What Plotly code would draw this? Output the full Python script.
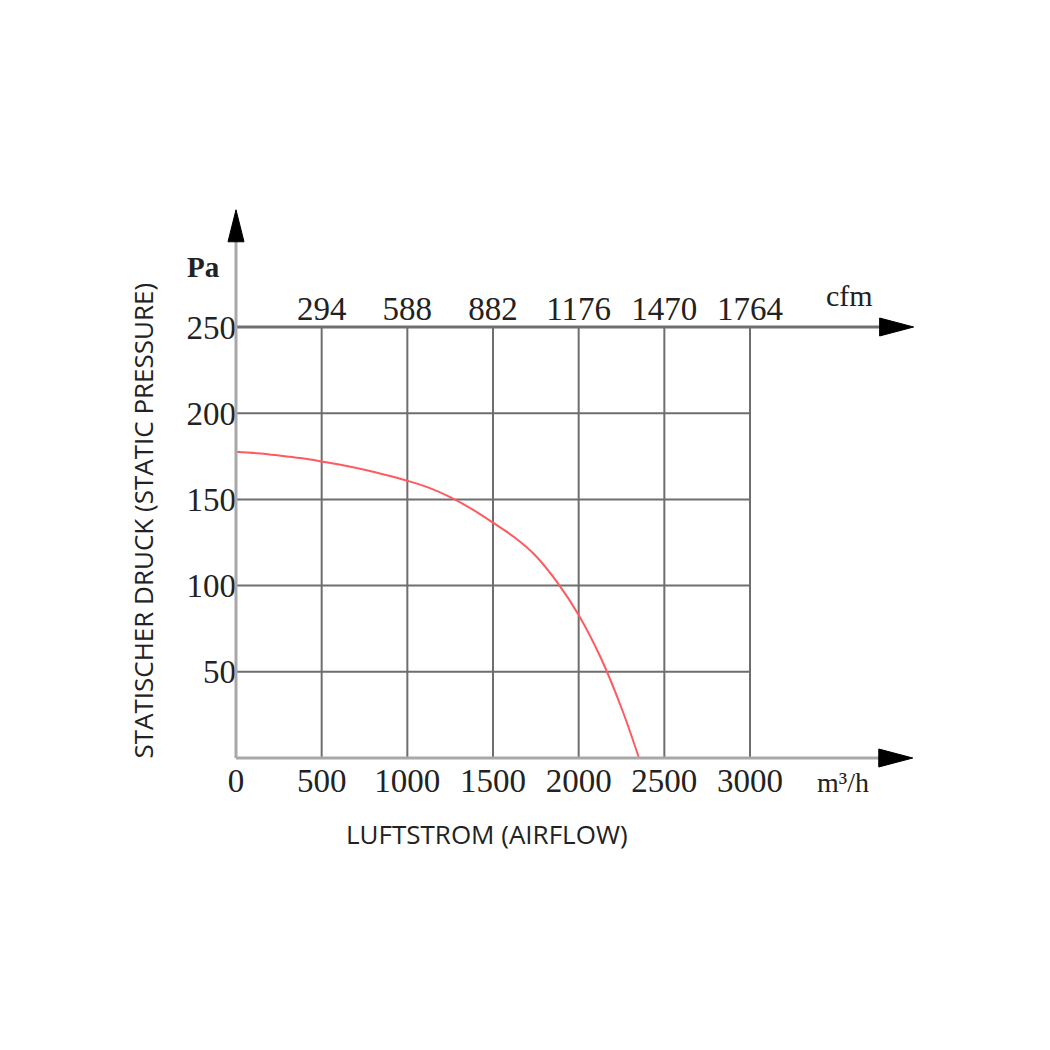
import plotly.graph_objects as go

# ---- data ----
airflow_m3h = [0, 125, 250, 375, 500, 625, 750, 875, 1000, 1125, 1250, 1375,
               1500, 1625, 1750, 1875, 2000, 2125, 2250, 2352]
pressure_pa = [177.7, 176.8, 175.5, 174, 172, 169.8, 167.2, 164.2, 160.8, 156.8, 151.3, 144.5,
               136.5, 128, 117.2, 101.9, 83, 59, 29, 0]

x_ticks = [0, 500, 1000, 1500, 2000, 2500, 3000]
x_tick_labels = ["0", "500", "1000", "1500", "2000", "2500", "3000"]
cfm_ticks = [500, 1000, 1500, 2000, 2500, 3000]
cfm_labels = ["294", "588", "882", "1176", "1470", "1764"]
y_ticks = [50, 100, 150, 200, 250]
y_tick_labels = ["50", "100", "150", "200", "250"]

X_MAX = 3000
Y_MAX = 250
X_RANGE = [-793.8, 4459.1]
Y_RANGE = [-82.37, 352.67]
X_ARROW = 3955
Y_ARROW = 318

serif = "Liberation Serif, Times New Roman, serif"
sans = "Open Sans, Noto Sans, sans-serif"
grid_col = "#6e6e6e"
txt = "#222"

def xfrac(v):
    return (v - X_RANGE[0]) / (X_RANGE[1] - X_RANGE[0])

def yfrac(v):
    return (v - Y_RANGE[0]) / (Y_RANGE[1] - Y_RANGE[0])

fig = go.Figure()

fig.add_trace(go.Scatter(
    x=airflow_m3h, y=pressure_pa, mode="lines",
    line=dict(color="rgb(255,90,95)", width=2, shape="spline", smoothing=1.0),
    hoverinfo="skip", showlegend=False,
))
fig.add_trace(go.Scatter(x=[0, X_MAX], y=[0, 0], xaxis="x2", mode="lines",
                         line=dict(width=0), hoverinfo="skip", showlegend=False))

shapes = []
for xv in cfm_ticks:
    shapes.append(dict(type="line", xref="x", yref="y", x0=xv, x1=xv, y0=0, y1=Y_MAX,
                       line=dict(color=grid_col, width=2), layer="below"))
for yv in y_ticks[:-1]:
    shapes.append(dict(type="line", xref="x", yref="y", x0=0, x1=X_MAX, y0=yv, y1=yv,
                       line=dict(color=grid_col, width=2), layer="below"))
# axis lines
shapes.append(dict(type="line", xref="x", yref="y", x0=0, x1=X_ARROW - 150, y0=Y_MAX, y1=Y_MAX,
                   line=dict(color="#707070", width=3)))
shapes.append(dict(type="line", xref="x", yref="y", x0=0, x1=X_ARROW - 150, y0=0, y1=0,
                   line=dict(color="#a8a8a8", width=3)))
shapes.append(dict(type="line", xref="x", yref="y", x0=0, x1=0, y0=0, y1=Y_ARROW - 15,
                   line=dict(color="#a8a8a8", width=3)))
# arrowheads (pixel sized)
for yv in [Y_MAX, 0]:
    shapes.append(dict(type="path", xref="x", yref="y", xsizemode="pixel", ysizemode="pixel",
                       xanchor=X_ARROW - 5 * (yv == 0), yanchor=yv,
                       path="M 0 0 L -34 9 L -34 -9 Z",
                       fillcolor="black", line=dict(color="black", width=1)))
shapes.append(dict(type="path", xref="x", yref="y", xsizemode="pixel", ysizemode="pixel",
                   xanchor=0, yanchor=Y_ARROW,
                   path="M 0 0 L -8 -32 L 8 -32 Z",
                   fillcolor="black", line=dict(color="black", width=1)))

annotations = [
    dict(text="<b>Pa</b>", x=-190, y=285, xref="x", yref="y", showarrow=False,
         font=dict(family=serif, size=29, color=txt)),
    dict(text="cfm", x=3580, y=Y_MAX + 18, xref="x", yref="y", showarrow=False,
         font=dict(family=serif, size=30, color=txt)),
    dict(text="m³/h", x=3540, y=-14, xref="x", yref="y", showarrow=False,
         font=dict(family=serif, size=28, color=txt)),
    dict(text="LUFTSTROM (AIRFLOW)", x=1465, y=-44, xref="x", yref="y", showarrow=False,
         font=dict(family=sans, size=26, color=txt)),
    dict(text="STATISCHER DRUCK (STATIC PRESSURE)", x=-540, y=138, xref="x", yref="y",
         showarrow=False, textangle=-90,
         font=dict(family=sans, size=26, color=txt)),
]

fig.update_layout(
    width=1050, height=1050,
    margin=dict(l=100, r=50, t=150, b=150),
    paper_bgcolor="white", plot_bgcolor="white",
    showlegend=False,
    xaxis=dict(range=X_RANGE, tickvals=x_ticks, ticktext=x_tick_labels,
               anchor="free", position=yfrac(0),
               showgrid=False, zeroline=False, showline=False, ticks="",
               tickfont=dict(family=serif, size=33, color=txt)),
    xaxis2=dict(range=X_RANGE, overlaying="x", side="top", anchor="free",
                position=yfrac(Y_MAX),
                tickvals=cfm_ticks, ticktext=cfm_labels,
                showgrid=False, zeroline=False, showline=False, ticks="",
                tickfont=dict(family=serif, size=33, color=txt)),
    yaxis=dict(range=Y_RANGE, tickvals=y_ticks, ticktext=y_tick_labels,
               anchor="free", position=xfrac(0),
               showgrid=False, zeroline=False, showline=False, ticks="",
               tickfont=dict(family=serif, size=33, color=txt)),
    shapes=shapes,
    annotations=annotations,
)

fig.write_html("out.html")
